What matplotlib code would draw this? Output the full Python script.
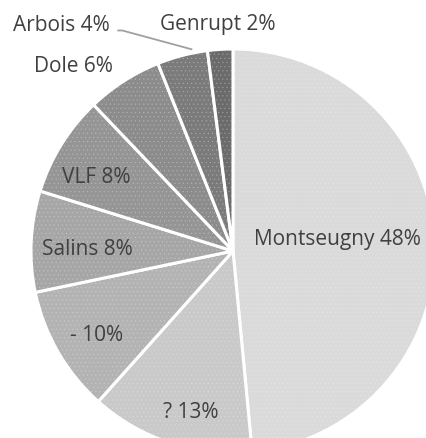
import numpy as np
import matplotlib
matplotlib.use("Agg")
import matplotlib.pyplot as plt
from matplotlib.patches import Wedge

labels = ["Montseugny", "?", "-", "Salins", "VLF", "Dole", "Arbois", "Genrupt"]
values = [48, 13, 10, 8, 8, 6, 4, 2]
colors = ["#dadada", "#c9c9c9", "#b3b3b3", "#a6a6a6", "#959595", "#8c8c8c", "#7b7b7b", "#6b6b6b"]
# label placement (fraction of radius, angular offset from wedge middle in degrees)
label_dist = [0.52, 0.82, 0.79, 0.72, 0.77, 1.21, 1.0, 1.13]
label_dang = [3.9, 3.5, 1.5, 1.7, 3.4, 8.0, 0.0, 0.2]

plt.rcParams["hatch.linewidth"] = 0.4

W, H = 427, 439
fig = plt.figure(figsize=(W / 100, H / 100), dpi=100)
ax = fig.add_axes([0, 0, 1, 1])

cx, cy, R = 233, H - 252, 202
wedges, _ = ax.pie(values, colors=colors, startangle=90, counterclock=False,
                   center=(cx, cy), radius=R, frame=True,
                   wedgeprops=dict(edgecolor="white", linewidth=2.2))
# subtle dotted texture
for w in wedges:
    tex = Wedge(w.center, w.r, w.theta1, w.theta2, facecolor="none",
                edgecolor="#f4f4f4", linewidth=0, hatch="....", alpha=0.28)
    ax.add_patch(tex)
ax.set_xlim(0, W)
ax.set_ylim(0, H)
ax.set_aspect("equal")
ax.axis("off")

font = dict(family=["Open Sans", "DejaVu Sans"], fontsize=15, color="#404040")
for i, (lab, v, w) in enumerate(zip(labels, values, wedges)):
    mid = np.deg2rad((w.theta1 + w.theta2) / 2 + label_dang[i])
    txt = f"{lab} {v}%"
    if lab == "Arbois":
        ex = cx + R * np.cos(mid)
        ey = cy + R * np.sin(mid)
        tx, ty = ex - 121, ey + 31
        ax.text(tx, ty, txt, ha="center", va="center", **font)
        ax.plot([tx + 56, tx + 61, ex + 10], [ty - 6, ty - 6, ey + 6],
                color="#a0a0a0", lw=1.3, solid_capstyle="butt")
    else:
        d = label_dist[i] * R
        ax.text(cx + d * np.cos(mid), cy + d * np.sin(mid), txt,
                ha="center", va="center", **font)

fig.savefig("out.png", dpi=100)
